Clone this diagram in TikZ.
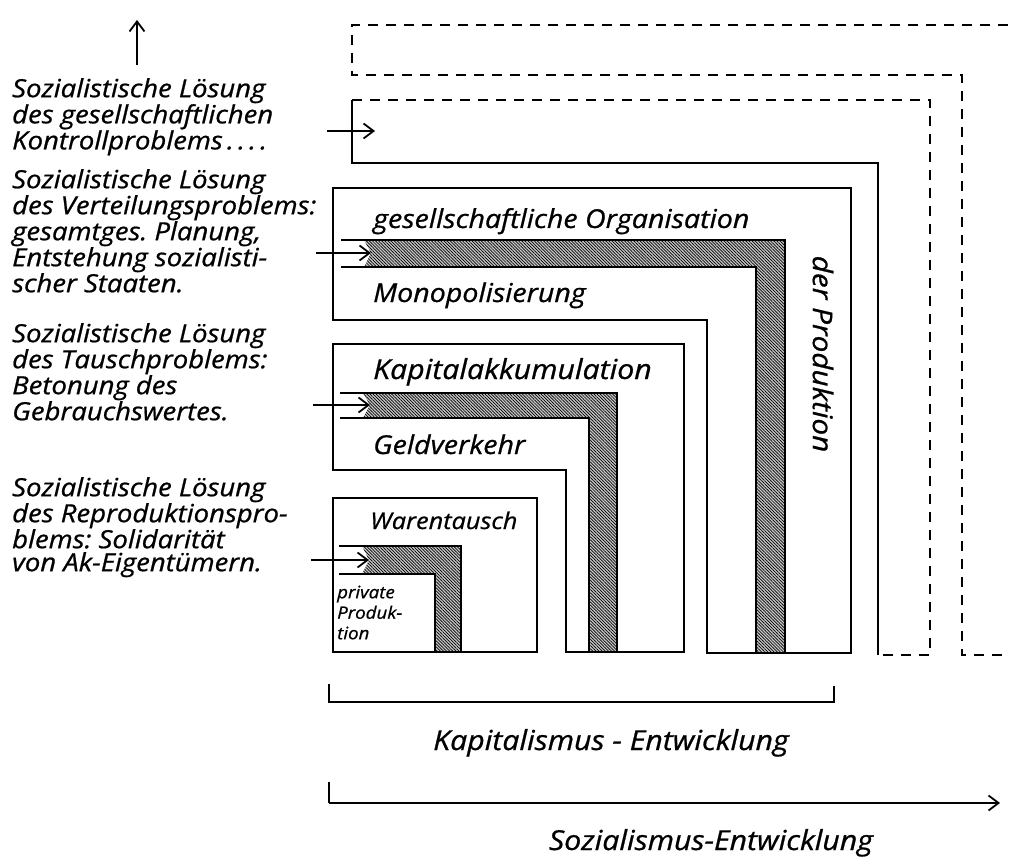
\documentclass[tikz,border=0pt]{standalone}
\usepackage{fontspec}
\newfontfamily\hand{Open Sans}[FakeStretch=1.1,FakeBold=0.8]
\usetikzlibrary{arrows.meta,patterns.meta}
\frenchspacing
\begin{document}
\begin{tikzpicture}[x=1pt,y=-1pt,
  ln/.style={line width=2pt, line join=miter},
  dsh/.style={line width=2pt, dash pattern=on 10pt off 8pt},
  hatch/.style={fill=gray!45, postaction={pattern={Lines[angle=-45,distance=2.2pt,line width=0.7pt]}}},
  arr/.style={line width=1.8pt, -{Straight Barb[length=10pt,width=15pt,line width=1.8pt]}},
  lab/.style={font=\hand\itshape\fontsize{25}{23}\selectfont, align=left, anchor=north west, inner sep=0pt},
  boxlab/.style={font=\hand\itshape\fontsize{26}{26}\selectfont, anchor=base west, inner sep=0pt},
  small/.style={font=\hand\itshape\fontsize{17}{20.5}\selectfont, align=left, anchor=north west, inner sep=0pt},
  axlab/.style={font=\hand\itshape\fontsize{27.5}{27}\selectfont, anchor=base, inner sep=0pt},
]
\useasboundingbox (0,0) rectangle (1010,861);
\fill[white] (0,0) rectangle (1010,861);

% hatched bands
\path[hatch] (364,240) -- (785,240) -- (785,653) -- (756,653) -- (756,267) -- (364,267) -- (371,253) -- cycle;
\path[hatch] (363,393) -- (617,393) -- (617,652) -- (589,652) -- (589,418) -- (363,418) -- (370,405) -- cycle;
\path[hatch] (362,546) -- (461,546) -- (461,652) -- (435,652) -- (435,574) -- (362,574) -- (369,560) -- cycle;

% band edges
\draw[ln] (341,240) -- (785,240) -- (785,653);
\draw[ln] (341,267) -- (756,267) -- (756,653);
\draw[ln] (340,393) -- (617,393) -- (617,652);
\draw[ln] (340,418) -- (589,418) -- (589,652);
\draw[ln] (339,546) -- (461,546) -- (461,652);
\draw[ln] (339,574) -- (435,574) -- (435,652);

% outlines of the levels
\draw[ln] (333,188) -- (851,188) -- (851,653) -- (707,653) -- (707,320) -- (333,320) -- cycle;
\draw[ln] (333,344) -- (684,344) -- (684,652) -- (566,652) -- (566,470) -- (333,470) -- cycle;
\draw[ln] (333,498) rectangle (537,652);

% control level
\draw[ln] (352,100) -- (352,163) -- (878,163) -- (878,655);
\draw[dsh] (352,100) -- (930,100) -- (930,655) -- (878,655);
% outermost level
\draw[dsh] (1008,25) -- (352,25) -- (352,75) -- (962,75) -- (962,655) -- (1008,655);

% arrows
\coordinate (up0) at (137,65);
\coordinate (up1) at (137,20);
\draw[arr] (up0) -- (up1);
\coordinate (a1s) at (327,131); \coordinate (a1e) at (375,131);
\coordinate (a2s) at (316,253); \coordinate (a2e) at (371,253);
\coordinate (a3s) at (313,405); \coordinate (a3e) at (370,405);
\coordinate (a4s) at (311,560); \coordinate (a4e) at (369,560);
\draw[arr] (a1s) -- (a1e);
\draw[arr] (a2s) -- (a2e);
\draw[arr] (a3s) -- (a3e);
\draw[arr] (a4s) -- (a4e);

% left texts
\node[lab] (t1) at (12,75) {\rule{0pt}{22pt}Sozialistische Lösung\\des gesellschaftlichen\\Kontrollproblems\,.\,.\,.\,.};
\node[lab] (t2) at (12,166) {\rule{0pt}{22pt}Sozialistische Lösung\\des Verteilungsproblems:\\gesamtges. Planung,\\Entstehung sozialisti-\\scher Staaten.};
\node[lab] (t3) at (12,320) {\rule{0pt}{22pt}Sozialistische Lösung\\des Tauschproblems:\\Betonung des\\Gebrauchswertes.};
\node[lab] (t4) at (12,474) {\rule{0pt}{22pt}Sozialistische Lösung\\des Reproduktionspro-\\blems: Solidarität\\von Ak-Eigentümern.};

% texts in the levels
\node[boxlab] (go) at (373,228) {gesellschaftliche Organisation};
\node[boxlab] (mo) at (373,302) {Monopolisierung};
\node[boxlab, font=\hand\itshape\fontsize{27.5}{27}\selectfont] (ka) at (373,379) {Kapitalakkumulation};
\node[boxlab] (ge) at (373,454) {Geldverkehr};
\node[boxlab, font=\hand\itshape\fontsize{23}{23}\selectfont] (wa) at (370,529) {Warentausch};
\node[small] (pp) at (337,582) {\rule{0pt}{16pt}private\\Produk-\\tion};
\node[boxlab, anchor=center, rotate=-90, font=\hand\itshape\fontsize{27}{27}\selectfont] (dp) at (823,354) {der Produktion};

% development brackets
\coordinate (k0) at (329,684); \coordinate (k1) at (329,702);
\coordinate (k2) at (834,702); \coordinate (k3) at (834,686);
\draw[ln] (k0) -- (k1) -- (k2) -- (k3);
\node[axlab] (kap) at (611,750) {Kapitalismus - Entwicklung};
\coordinate (s0) at (329,782); \coordinate (s1) at (329,803);
\coordinate (s2) at (1000,803);
\draw[ln] (s0) -- (s1);
\draw[arr] (s1) -- (s2);
\node[axlab] (soz) at (711,850) {Sozialismus-Entwicklung};
\end{tikzpicture}
\end{document}
